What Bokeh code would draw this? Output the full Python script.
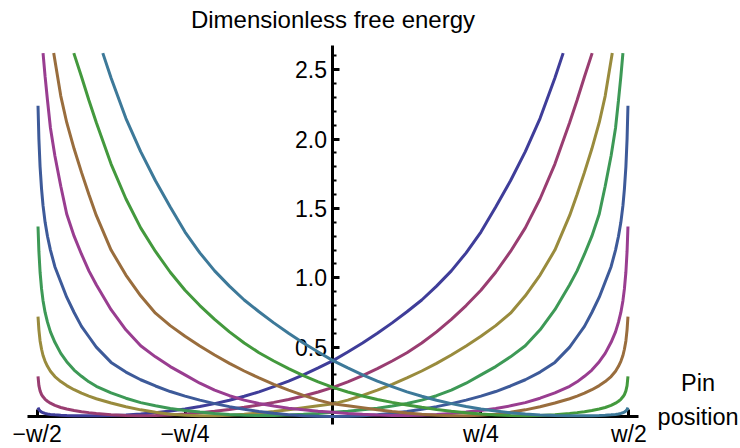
from bokeh.plotting import figure
from bokeh.models import Range1d, LinearAxis, FixedTicker, Label, PrintfTickFormatter
from bokeh.embed import file_html
from bokeh.resources import INLINE

# ---- pin positions (units of w) ----
wall_left = [-0.4985, -0.497, -0.495, -0.4925, -0.49, -0.4865, -0.4825, -0.4775, -0.47, -0.46,
             -0.45, -0.4375, -0.425, -0.4125]
middle = [-0.4, -0.375, -0.35, -0.325, -0.3, -0.275, -0.25, -0.225, -0.2, -0.175, -0.15, -0.125,
          -0.1, -0.075, -0.05, -0.025, 0.0, 0.025, 0.05, 0.075, 0.1, 0.125, 0.15, 0.175, 0.2,
          0.225, 0.25, 0.275, 0.3, 0.325, 0.35, 0.375, 0.4]
wall_right = [0.4125, 0.425, 0.4375, 0.45, 0.46, 0.47, 0.4775, 0.4825, 0.4865, 0.49, 0.4925,
              0.495, 0.497, 0.4985]

x_pin_0 = wall_left + middle[:-1] + [0.389]
x_pin_1 = wall_left + middle + [0.4125, 0.425, 0.438]
x_pin_2 = wall_left + middle + [0.4125, 0.425, 0.4375, 0.45, 0.46, 0.472]
x_pin_3 = wall_left + middle + wall_right[:10]
x_pin_4 = wall_left + middle + wall_right
x_pin_5 = wall_left[4:] + middle + wall_right
x_pin_6 = [-0.472, -0.46, -0.45, -0.4375, -0.425, -0.4125] + middle + wall_right
x_pin_7 = [-0.438, -0.425, -0.4125] + middle + wall_right
x_pin_8 = [-0.389] + middle[1:] + wall_right

# ---- dimensionless free energy, one list per curve ----
F_0 = [0.065, 0.05, 0.04, 0.032, 0.027, 0.022, 0.018, 0.015, 0.012, 0.009, 0.007, 0.006, 0.005, 0.005,
       0.005, 0.007, 0.011, 0.018, 0.027, 0.039, 0.054, 0.072, 0.093, 0.117, 0.146, 0.178, 0.215,
       0.255, 0.3, 0.35, 0.403, 0.465, 0.53, 0.6, 0.675, 0.755, 0.84, 0.94, 1.05, 1.18, 1.33, 1.51,
       1.70, 1.91, 2.15, 2.44,
       2.62]
F_1 = [0.29, 0.222, 0.185, 0.158, 0.142, 0.124, 0.11, 0.096, 0.08, 0.065, 0.054, 0.043, 0.035, 0.028,
       0.022, 0.013, 0.008, 0.006, 0.007, 0.011, 0.018, 0.027, 0.038, 0.051, 0.066, 0.083, 0.102,
       0.123, 0.148, 0.177, 0.21, 0.25, 0.295, 0.345, 0.4, 0.46, 0.53, 0.61, 0.70, 0.80, 0.91, 1.04,
       1.19, 1.36, 1.57, 1.82, 2.12,
       2.28, 2.45, 2.62]
F_2 = [0.72, 0.625, 0.545, 0.485, 0.44, 0.398, 0.362, 0.326, 0.288, 0.252, 0.223, 0.193, 0.168, 0.147,
       0.128, 0.097, 0.07, 0.048, 0.03, 0.017, 0.009, 0.005, 0.005, 0.009, 0.016, 0.025, 0.036,
       0.049, 0.063, 0.077, 0.091, 0.118, 0.152, 0.19, 0.232, 0.278, 0.328, 0.383, 0.443, 0.508,
       0.578, 0.655, 0.745, 0.87, 1.02, 1.2, 1.45,
       1.6, 1.76, 1.93, 2.12, 2.31, 2.62]
F_3 = [1.37, 1.19, 1.04, 0.92, 0.835, 0.75, 0.68, 0.61, 0.535, 0.455, 0.395, 0.335, 0.29, 0.25,
       0.218, 0.17, 0.132, 0.1, 0.077, 0.058, 0.044, 0.032, 0.022, 0.014, 0.009, 0.007, 0.008,
       0.011, 0.016, 0.022, 0.03, 0.038, 0.048, 0.06, 0.075, 0.094, 0.118, 0.15, 0.19, 0.24, 0.30,
       0.36, 0.43, 0.51, 0.625, 0.77, 0.95,
       1.05, 1.17, 1.3, 1.46, 1.66, 1.88, 2.08, 2.28, 2.45, 2.62]
F_4 = [2.24, 2.0, 1.8, 1.64, 1.52, 1.4, 1.3, 1.2, 1.08, 0.97, 0.86, 0.75, 0.65, 0.575,
       0.5, 0.39, 0.32, 0.265, 0.22, 0.18, 0.147, 0.118, 0.093, 0.071, 0.052, 0.036, 0.023,
       0.013, 0.006, 0.0015, 0.0, 0.0015, 0.006, 0.013, 0.023, 0.036, 0.052, 0.071, 0.093, 0.118,
       0.147, 0.18, 0.22, 0.265, 0.32, 0.39, 0.5,
       0.575, 0.65, 0.75, 0.86, 0.97, 1.08, 1.2, 1.3, 1.4, 1.52, 1.64, 1.8, 2.0, 2.24]
F_5 = [2.62, 2.45, 2.28, 2.08, 1.88, 1.66, 1.46, 1.3, 1.17, 1.05,
       0.95, 0.77, 0.625, 0.51, 0.43, 0.36, 0.30, 0.24, 0.19, 0.15, 0.118, 0.094, 0.075, 0.06,
       0.048, 0.038, 0.03, 0.022, 0.016, 0.011, 0.008, 0.007, 0.009, 0.014, 0.022, 0.032, 0.044,
       0.058, 0.077, 0.1, 0.132, 0.17, 0.218,
       0.25, 0.29, 0.335, 0.395, 0.455, 0.535, 0.61, 0.68, 0.75, 0.835, 0.92, 1.04, 1.19, 1.37]
F_6 = [2.62, 2.31, 2.12, 1.93, 1.76, 1.6,
       1.45, 1.2, 1.02, 0.87, 0.745, 0.655, 0.578, 0.508, 0.443, 0.383, 0.328, 0.278, 0.232, 0.19,
       0.152, 0.118, 0.091, 0.077, 0.063, 0.049, 0.036, 0.025, 0.016, 0.009, 0.005, 0.005, 0.009,
       0.017, 0.03, 0.048, 0.07, 0.097, 0.128,
       0.147, 0.168, 0.193, 0.223, 0.252, 0.288, 0.326, 0.362, 0.398, 0.44, 0.485, 0.545, 0.625, 0.72]
F_7 = [2.62, 2.45, 2.28,
       2.12, 1.82, 1.57, 1.36, 1.19, 1.04, 0.91, 0.80, 0.70, 0.61, 0.53, 0.46, 0.4, 0.345, 0.295,
       0.25, 0.21, 0.177, 0.148, 0.123, 0.102, 0.083, 0.066, 0.051, 0.038, 0.027, 0.018, 0.011,
       0.007, 0.006, 0.008, 0.013, 0.022,
       0.028, 0.035, 0.043, 0.054, 0.065, 0.08, 0.096, 0.11, 0.124, 0.142, 0.158, 0.185, 0.222, 0.29]
F_8 = [2.62,
       2.44, 2.15, 1.91, 1.70, 1.51, 1.33, 1.18, 1.05, 0.94, 0.84, 0.755, 0.675, 0.6, 0.53, 0.465,
       0.403, 0.35, 0.3, 0.255, 0.215, 0.178, 0.146, 0.117, 0.093, 0.072, 0.054, 0.039, 0.027,
       0.018, 0.011, 0.007, 0.005,
       0.005, 0.005, 0.006, 0.007, 0.009, 0.012, 0.015, 0.018, 0.022, 0.027, 0.032, 0.04, 0.05, 0.065]

curve_colors = ["#3F3D99", "#993D71", "#998B3D", "#3D9956", "#3D5A99",
                "#993D90", "#996D3D", "#43993D", "#3D7999"]

x_tick_values = [-0.5, -0.25, 0.25, 0.5]
x_tick_labels = ["\u2212w/2", "\u2212w/4", "w/4", "w/2"]
y_tick_values = [0.5, 1.0, 1.5, 2.0, 2.5]
y_minor_values = [0.1, 0.2, 0.3, 0.4, 0.6, 0.7, 0.8, 0.9, 1.1, 1.2, 1.3, 1.4, 1.6, 1.7, 1.8, 1.9,
                  2.1, 2.2, 2.3, 2.4, 2.6]

xs = [x_pin_0, x_pin_1, x_pin_2, x_pin_3, x_pin_4, x_pin_5, x_pin_6, x_pin_7, x_pin_8]
ys = [F_0, F_1, F_2, F_3, F_4, F_5, F_6, F_7, F_8]
for xv, yv in zip(xs, ys):
    assert len(xv) == len(yv), (len(xv), len(yv))

FONT = "Liberation Sans"
FS = "23px"

# frame covers the whole canvas; axes are placed at x=0 and y=0
p = figure(width=740, height=448, output_backend="svg", toolbar_location=None,
           x_range=Range1d(-0.5619, 0.6887), y_range=Range1d(-0.2307, 2.9993),
           x_axis_type=None, y_axis_type=None,
           min_border_left=0, min_border_right=0, min_border_top=0, min_border_bottom=0)
p.outline_line_color = None
p.background_fill_color = "white"
p.border_fill_color = "white"

for xv, yv, c in zip(xs, ys, curve_colors):
    r = p.line(xv, yv, line_color=c, line_width=3)
    r.level = "annotation"

xaxis = LinearAxis(fixed_location=0, bounds=(-0.517, 0.517),
                   ticker=FixedTicker(ticks=x_tick_values, minor_ticks=[]),
                   major_label_overrides={v: s for v, s in zip(x_tick_values, x_tick_labels)})
yaxis = LinearAxis(fixed_location=0, bounds=(-0.058, 2.675),
                   ticker=FixedTicker(ticks=y_tick_values, minor_ticks=y_minor_values),
                   formatter=PrintfTickFormatter(format="%.1f"))
for ax in (xaxis, yaxis):
    ax.axis_line_width = 3
    ax.axis_line_color = "black"
    ax.major_tick_in = 7
    ax.major_tick_out = 0
    ax.major_tick_line_width = 3
    ax.minor_tick_in = 4
    ax.minor_tick_out = 0
    ax.minor_tick_line_width = 2
    ax.major_label_text_font = FONT
    ax.major_label_text_font_size = FS
    ax.major_label_text_color = "black"
xaxis.major_label_standoff = 4
yaxis.major_label_standoff = 6
p.add_layout(xaxis, "below")
p.add_layout(yaxis, "left")

p.add_layout(Label(x=0, y=2.865, text="Dimensionless free energy",
                   text_align="center", text_baseline="alphabetic",
                   text_font=FONT, text_font_size="24px", text_color="black"))
p.add_layout(Label(x=0.617, y=0.238, text="Pin",
                   text_align="center", text_baseline="alphabetic",
                   text_font=FONT, text_font_size="23.5px", text_color="black"))
p.add_layout(Label(x=0.617, y=-0.005, text="position",
                   text_align="center", text_baseline="alphabetic",
                   text_font=FONT, text_font_size="23.5px", text_color="black"))

open("out.html", "w").write(file_html(p, INLINE))
